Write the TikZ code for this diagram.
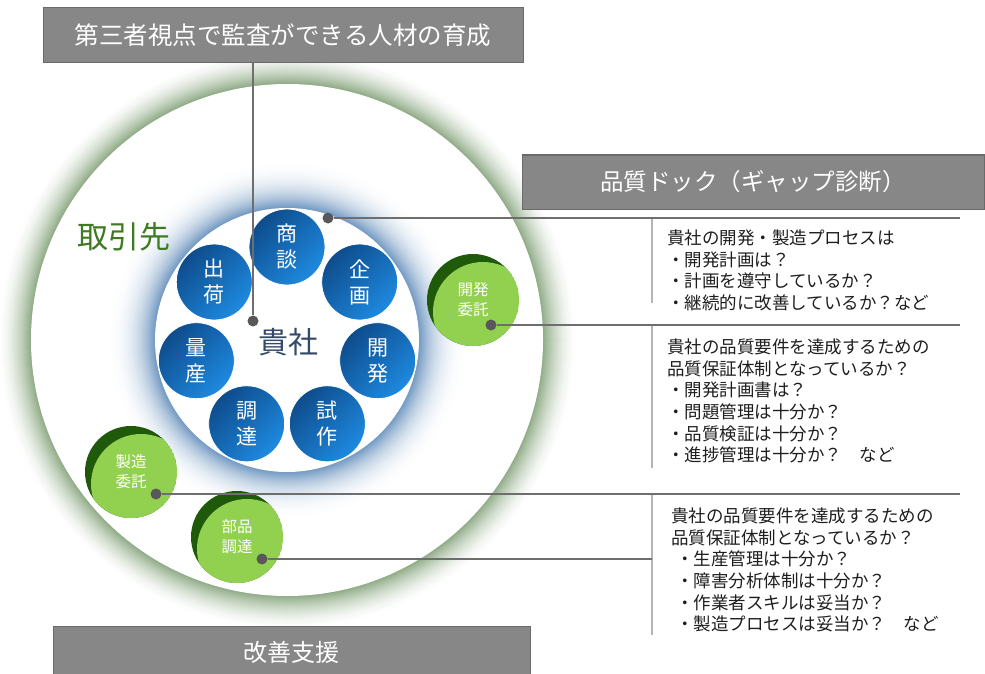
\documentclass[tikz,border=0pt]{standalone}
\usepackage{fontspec}
\setmainfont{Noto Sans CJK JP}
\usetikzlibrary{calc}
\definecolor{boxgray}{HTML}{878787}
\definecolor{boxedge}{HTML}{6A6A6A}
\definecolor{linegray}{HTML}{6E6E6E}
\definecolor{sepgray}{HTML}{B4B4B4}
\definecolor{dotgray}{HTML}{58585A}
\definecolor{ringgreen}{HTML}{6C9160}
\definecolor{glowblue}{HTML}{5A88B8}
\definecolor{bluedark}{HTML}{0E4C8C}
\definecolor{bluelight}{HTML}{1E8AE0}
\definecolor{lightgreen}{HTML}{92D050}
\definecolor{darkgreen}{HTML}{1F5A0B}
\definecolor{textgreen}{HTML}{3D7A22}
\definecolor{textblue}{HTML}{35496A}
\definecolor{bodytext}{HTML}{1E1E1E}
\tikzset{
  titlebox/.style={fill=boxgray, draw=boxedge, line width=1pt, text=white, inner sep=0pt},
  proc/.style={circle, minimum size=76pt, inner sep=0pt, top color=bluedark, bottom color=bluelight, shading angle=45, draw=white, line width=0.8pt, text=white, align=center, font=\fontsize{21}{26}\selectfont},
  partner/.style={circle, minimum size=92pt, inner sep=0pt, text=white, align=center, font=\fontsize{15.5}{20}\selectfont},
  dotmark/.style={circle, fill=dotgray, minimum size=11pt, inner sep=0pt},
  conn/.style={draw=linegray, line width=1.3pt},
  sepline/.style={draw=sepgray, line width=1.3pt},
  body/.style={anchor=north west, align=left, inner sep=0pt, text=bodytext, font=\fontsize{17.5}{21.7}\selectfont},
}
\begin{document}
\begin{tikzpicture}[x=1pt, y=-1pt]
\useasboundingbox (0,0) rectangle (985,674);
\fill[white] (0,0) rectangle (985,674);
\coordinate (C) at (287,340);
% outer green glow ring
\foreach \i in {34,33,...,0}{
  \pgfmathsetmacro\p{78*(1-\i/34)^1.7}
  \fill[ringgreen!\p!white] (C) circle[radius={(256+\i)*1pt}];
}
\fill[white] (C) circle[radius=256pt];
% inner blue glow
\foreach \i in {52,51,...,0}{
  \pgfmathsetmacro\p{88*(1-\i/52)^2.6}
  \fill[glowblue!\p!white] (C) circle[radius={(132+\i)*1pt}];
}
\fill[white] (C) circle[radius=132pt];
% labels
\node[text=textgreen, font=\fontsize{31}{36}\selectfont, inner sep=0pt] (client) at (124,237) {取引先};
\node[text=textblue, font=\fontsize{30}{34}\selectfont, inner sep=0pt] (self) at (288,342) {貴社};
% process circles
\foreach \lab [count=\k] in {{商\\談},{企\\画},{開\\発},{試\\作},{調\\達},{量\\産},{出\\荷}}{
  \pgfmathsetmacro\a{90-(\k-1)*360/7}
  \node[proc] (p\k) at ($(C)+(\a:93pt)$) {\lab};
}
% partner circles
\foreach \n/\x/\y/\t in {dev/473/300/{開発\\委託}, mfg/131/472/{製造\\委託}, parts/237/537/{部品\\調達}}{
  \begin{scope}
    \clip (\x,\y) circle[radius=46pt];
    \fill[darkgreen] (\x,\y) circle[radius=46pt];
    \fill[lightgreen] (\x+10,\y+12) circle[radius=50pt];
  \end{scope}
  \node[partner] (\n) at (\x,\y) {\t};
}
% title boxes
\node[titlebox, minimum width=480pt, minimum height=55pt, font=\fontsize{24.5}{28}\selectfont] (top) at (283,35.5) {第三者視点で監査ができる人材の育成};
\node[titlebox, minimum width=462pt, minimum height=54pt, font=\fontsize{23.5}{28}\selectfont] (dock) at (753,182) {品質ドック（ギャップ診断）};
\node[titlebox, minimum width=477pt, minimum height=52pt, font=\fontsize{24}{28}\selectfont] (kaizen) at (291.5,652) {改善支援};
% separators
\draw[sepline] (652,219) -- (652,303);
\draw[sepline] (652,326) -- (652,468);
\draw[sepline] (652,495) -- (652,635);
% dots and connectors
\node[dotmark] (d0) at (253,321) {};
\node[dotmark] (d1) at (328,218) {};
\node[dotmark] (d2) at (491,325) {};
\node[dotmark] (d3) at (156,494) {};
\node[dotmark] (d4) at (262,559) {};
\coordinate (e1) at (960,218);
\coordinate (e2) at (960,325);
\coordinate (e3) at (960,494);
\coordinate (e4) at (652,559);
\draw[conn] (top.south -| d0) -- (d0);
\draw[conn] (d1) -- (e1);
\draw[conn] (d2) -- (e2);
\draw[conn] (d3) -- (e3);
\draw[conn] (d4) -- (e4);
% text blocks
\node[body] (t1) at (667,229.5) {貴社の開発・製造プロセスは\\・開発計画は？\\・計画を遵守しているか？\\・継続的に改善しているか？など};
\node[body] (t2) at (667,338.5) {貴社の品質要件を達成するための\\品質保証体制となっているか？\\・開発計画書は？\\・問題管理は十分か？\\・品質検証は十分か？\\・進捗管理は十分か？　など};
\node[body] (t3) at (671,507.5) {貴社の品質要件を達成するための\\品質保証体制となっているか？\\\hspace*{5pt}・生産管理は十分か？\\\hspace*{5pt}・障害分析体制は十分か？\\\hspace*{5pt}・作業者スキルは妥当か？\\\hspace*{5pt}・製造プロセスは妥当か？　など};
\end{tikzpicture}
\end{document}
